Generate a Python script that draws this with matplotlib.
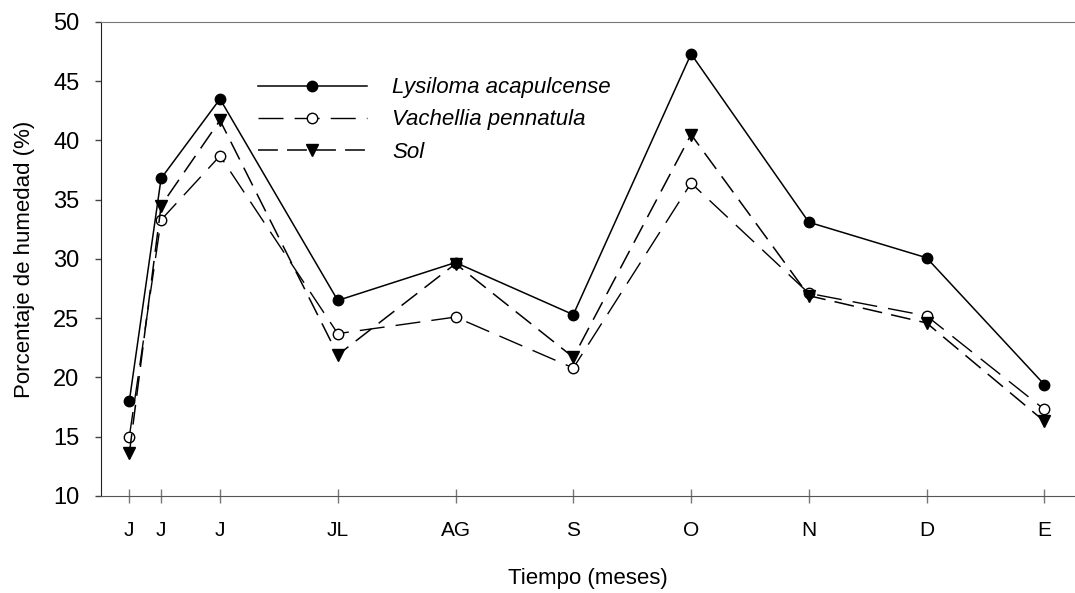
import matplotlib.pyplot as plt
from matplotlib import font_manager

# Sampling dates (in months) and their tick labels
meses = [1.23, 1.5, 2.0, 3.0, 4.0, 5.0, 6.0, 7.0, 8.0, 9.0]
etiquetas = ["J", "J", "J", "JL", "AG", "S", "O", "N", "D", "E"]

# Soil moisture (%) under each cover
lysiloma = [18.0, 36.8, 43.5, 26.5, 29.7, 25.3, 47.3, 33.1, 30.1, 19.4]
vachellia = [15.0, 33.3, 38.7, 23.7, 25.1, 20.8, 36.4, 27.1, 25.2, 17.3]
sol = [13.6, 34.5, 41.7, 21.9, 29.6, 21.7, 40.5, 26.9, 24.6, 16.3]

installed = {f.name for f in font_manager.fontManager.ttflist}
family = "Liberation Sans Narrow" if "Liberation Sans Narrow" in installed else "Liberation Sans"
plt.rcParams["font.family"] = [family, "DejaVu Sans"]

fig = plt.figure(figsize=(10.75, 5.93), dpi=100)
ax = fig.add_axes([0.094, 0.1636, 0.906, 0.7994])

ax.plot(meses, lysiloma, color="black", lw=1.1, ls="-", marker="o",
        ms=7.5, mfc="black", mec="black", label="Lysiloma acapulcense")
ax.plot(meses, vachellia, color="black", lw=1.0, ls=(0, (18, 8)), marker="o",
        ms=7.5, mfc="white", mec="black", mew=1.0, label="Vachellia pennatula")
ax.plot(meses, sol, color="black", lw=1.1, ls=(0, (13, 6)), marker="v",
        ms=8, mfc="black", mec="black", label="Sol")

ax.set_xlim(0.99, 9.26)
ax.set_ylim(10, 50)
ax.set_yticks(range(10, 51, 5))
ax.set_xticks(meses)
ax.set_xticklabels(etiquetas)

ax.spines["right"].set_visible(False)
ax.spines["top"].set_color("#777777")
ax.spines["bottom"].set_color("#555555")
ax.spines["left"].set_color("#222222")

ax.tick_params(axis="y", direction="out", length=4.5, width=1, color="#444444",
               labelsize=17, pad=11)
ax.tick_params(axis="x", direction="inout", length=10, width=1, color="#777777",
               labelsize=15, pad=13)

ax.set_ylabel("Porcentaje de humedad (%)", fontsize=16, labelpad=13)
ax.set_xlabel("Tiempo (meses)", fontsize=16, labelpad=20)

leg = ax.legend(loc="upper left", bbox_to_anchor=(0.152, 0.902), frameon=False,
                fontsize=16, handlelength=4.9, handletextpad=1.15,
                labelspacing=0.5, borderaxespad=0)
for t in leg.get_texts():
    t.set_fontstyle("italic")

fig.savefig("out.png", dpi=100)
